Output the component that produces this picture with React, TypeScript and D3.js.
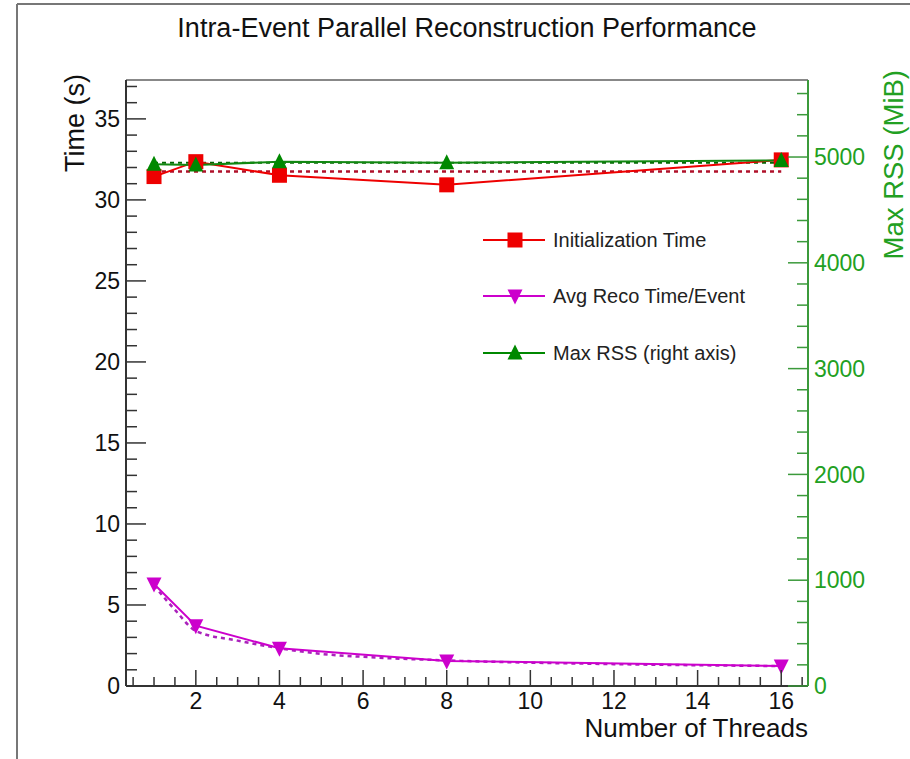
import React from "react";
import * as d3 from "d3";

const threads = [1, 2, 4, 8, 16];
const initTime = [31.44, 32.36, 31.52, 30.93, 32.47];
const recoTime = [6.3, 3.72, 2.33, 1.55, 1.23];
const maxRss = [4931, 4924, 4956, 4946, 4968];
const initFitValue = 31.75;
const rssFitValue = 4945;
const recoFitX = [1, 1.5, 2, 3, 4, 5, 6, 8, 12, 16];
const recoFitY = [6.2, 4.7, 3.4, 2.8, 2.33, 1.98, 1.8, 1.58, 1.35, 1.23];

const xTicks = [2, 4, 6, 8, 10, 12, 14, 16];
const yLeftTicks = [0, 5, 10, 15, 20, 25, 30, 35];
const yRightTicks = [0, 1000, 2000, 3000, 4000, 5000];

const legendItems = [
  { label: "Initialization Time", color: "#ee0000", marker: "square" },
  { label: "Avg Reco Time/Event", color: "#cc00cc", marker: "down" },
  { label: "Max RSS (right axis)", color: "#008800", marker: "up" },
];

const FONT = "'Liberation Sans', Arial, sans-serif";

function Marker({ type, x, y, color }: { type: string; x: number; y: number; color: string }) {
  const s = 7.5;
  if (type === "square") return <rect x={x - s} y={y - s} width={2 * s} height={2 * s} fill={color} />;
  if (type === "up")
    return <path d={`M${x},${y - s - 1}L${x + s},${y + s - 1}L${x - s},${y + s - 1}Z`} fill={color} />;
  return <path d={`M${x - s},${y - s + 1}L${x + s},${y - s + 1}L${x},${y + s + 1}Z`} fill={color} />;
}

export default function App() {
  const L = 126, R = 808, T = 80, B = 686;
  const x = d3.scaleLinear().domain([0.33, 16.64]).range([L, R]);
  const yL = d3.scaleLinear().domain([0, 37.4]).range([B, T]);
  const yR = d3.scaleLinear().domain([0, 5728]).range([B, T]);

  const xMinor = d3.range(0.5, 16.6, 0.5);
  const yLMinor = d3.range(0, 37.5, 1);
  const yRMinor = d3.range(0, 5700, 200);

  const lineL = (vals: number[]) =>
    d3.line<number>().x((_, i) => x(threads[i])).y((v) => yL(v))(vals) || "";
  const rssLine = d3.line<number>().x((_, i) => x(threads[i])).y((v) => yR(v))(maxRss) || "";
  const fitLine = d3
    .line<number>()
    .x((_, i) => x(recoFitX[i]))
    .y((v) => yL(v))
    .curve(d3.curveMonotoneX)(recoFitY) || "";

  const axisCol = "#333";
  const green = "#3b9a3b";

  return (
    <svg
      width={910}
      height={759}
      style={{ position: "absolute", left: 0, top: 0, background: "#fff" }}
      fontFamily={FONT}
    >
      <rect x={0} y={0} width={910} height={759} fill="#fff" />
      {/* canvas frame */}
      <line x1={17} y1={4} x2={910} y2={4} stroke="#777" strokeWidth={2} />
      <line x1={17} y1={4} x2={17} y2={759} stroke="#777" strokeWidth={2} />

      <text x={467} y={37} textAnchor="middle" fontSize={27} fill="#111">
        Intra-Event Parallel Reconstruction Performance
      </text>

      {/* plot frame top */}
      <line x1={L} y1={T} x2={R} y2={T} stroke="#888" strokeWidth={2} />

      {/* fit lines */}
      <line x1={x(1)} x2={x(16)} y1={yL(initFitValue)} y2={yL(initFitValue)} stroke="#b0102a" strokeWidth={2.5} strokeDasharray="4,4" />
      <line x1={x(1)} x2={x(16)} y1={yR(rssFitValue)} y2={yR(rssFitValue)} stroke="#006600" strokeWidth={2} strokeDasharray="4,4" />
      <path d={fitLine} fill="none" stroke="#aa22bb" strokeWidth={2.5} strokeDasharray="4,4" />

      {/* series lines */}
      <path d={lineL(initTime)} fill="none" stroke="#ee0000" strokeWidth={2} />
      <path d={lineL(recoTime)} fill="none" stroke="#cc00cc" strokeWidth={2} />
      <path d={rssLine} fill="none" stroke="#118811" strokeWidth={2} />

      {threads.map((t, i) => (
        <Marker key={"i" + i} type="square" x={x(t)} y={yL(initTime[i])} color="#ee0000" />
      ))}
      {threads.map((t, i) => (
        <Marker key={"r" + i} type="down" x={x(t)} y={yL(recoTime[i])} color="#cc00cc" />
      ))}
      {threads.map((t, i) => (
        <Marker key={"m" + i} type="up" x={x(t)} y={yR(maxRss[i])} color="#008800" />
      ))}

      {/* left axis */}
      <line x1={L} y1={T} x2={L} y2={B} stroke={axisCol} strokeWidth={2} />
      {yLMinor.map((v) => (
        <line key={"ylm" + v} x1={L} x2={L + (v % 5 === 0 ? 20 : 11)} y1={yL(v)} y2={yL(v)} stroke={axisCol} strokeWidth={1.5} />
      ))}
      {yLeftTicks.map((v) => (
        <text key={"ylt" + v} x={120} y={yL(v)} dy="0.36em" textAnchor="end" fontSize={23} fill="#111">
          {v}
        </text>
      ))}
      <text transform={`translate(84,${T - 6}) rotate(-90)`} textAnchor="end" fontSize={27} fill="#111">
        Time (s)
      </text>

      {/* bottom axis */}
      <line x1={L} y1={B} x2={R} y2={B} stroke={axisCol} strokeWidth={2} />
      {xMinor.map((v) => (
        <line key={"xm" + v} x1={x(v)} x2={x(v)} y1={B} y2={B - (v % 2 === 0 ? 16 : 9)} stroke={axisCol} strokeWidth={1.5} />
      ))}
      {xTicks.map((v) => (
        <text key={"xt" + v} x={x(v)} y={709} textAnchor="middle" fontSize={23} fill="#111">
          {v}
        </text>
      ))}
      <text x={R} y={737} textAnchor="end" fontSize={26} fill="#111">
        Number of Threads
      </text>

      {/* right axis */}
      <line x1={R} y1={T} x2={R} y2={B} stroke={green} strokeWidth={2} />
      {yRMinor.map((v) => (
        <line key={"yrm" + v} x1={R} x2={R - (v % 1000 === 0 ? 20 : 11)} y1={yR(v)} y2={yR(v)} stroke={green} strokeWidth={1.5} />
      ))}
      {yRightTicks.map((v) => (
        <text key={"yrt" + v} x={814} y={yR(v)} dy="0.36em" textAnchor="start" fontSize={23} fill="#22a022">
          {v}
        </text>
      ))}
      <text transform={`translate(903,${T - 10}) rotate(-90)`} textAnchor="end" fontSize={27.5} fill="#22a022">
        Max RSS (MiB)
      </text>

      {/* legend */}
      {legendItems.map((it, i) => {
        const cy = [240, 296, 353][i];
        return (
          <g key={it.label}>
            <line x1={483} x2={545} y1={cy} y2={cy} stroke={it.color} strokeWidth={2} />
            <Marker type={it.marker} x={515} y={cy} color={it.color} />
            <text x={553} y={cy} dy="0.36em" fontSize={20} fill="#222">
              {it.label}
            </text>
          </g>
        );
      })}
    </svg>
  );
}
